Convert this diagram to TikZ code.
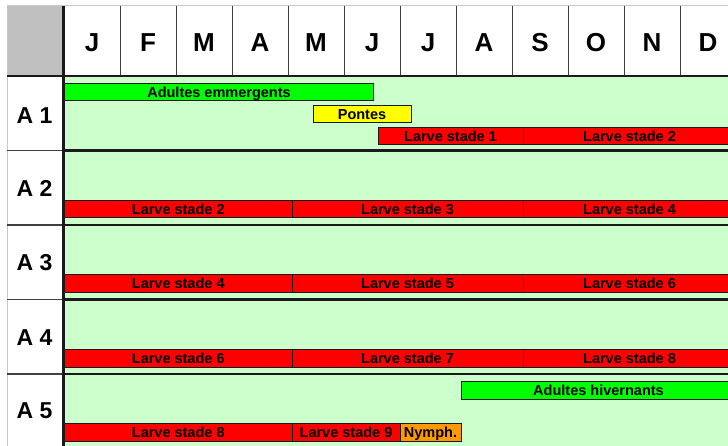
\documentclass[tikz,border=0pt]{standalone}
\usepackage{fontspec}
\setmainfont{Liberation Sans}
\definecolor{bgg}{HTML}{CCFFCC}
\definecolor{grn}{HTML}{00FF00}
\definecolor{yel}{HTML}{FFFF00}
\definecolor{rdd}{HTML}{FF0000}
\definecolor{org}{HTML}{FF9900}
\definecolor{corner}{HTML}{C0C0C0}
\definecolor{frm}{HTML}{C8C8C8}
\definecolor{ink}{HTML}{1A1A1A}
\definecolor{gridc}{HTML}{404040}
\begin{document}
\begin{tikzpicture}[x=1pt,y=-1pt,
  bar/.style={draw=ink, line width=1pt, inner sep=0pt, outer sep=0pt, anchor=north west,
    minimum height=17.5pt, text height=10.4pt, text depth=0pt, text=black,
    font=\bfseries\fontsize{14.5}{15}\selectfont},
  month/.style={inner sep=0pt, text height=18.6pt, text depth=0pt,
    font=\bfseries\fontsize{26}{28}\selectfont},
  rowlab/.style={inner sep=0pt, text height=16.5pt, text depth=0pt,
    font=\bfseries\fontsize{23}{25}\selectfont},
  sepchart/.style={line width=2.6pt, ink},
  seplab/.style={line width=1.6pt, gridc},
  thinframe/.style={line width=1pt, frm},
]
\useasboundingbox (0,0) rectangle (728,446);
\clip (0,0) rectangle (728,446);
% backgrounds
\fill[white] (0,0) rectangle (728,446);
\fill[corner] (7,6) rectangle (63,76);
\fill[bgg] (64,76) rectangle (728,446);
% frame light lines
\draw[thinframe] (7,5.5) -- (728,5.5);
\draw[thinframe] (7.5,5.5) -- (7.5,446);
% header column lines
\foreach \k in {0,...,10}{
  \draw[line width=1pt, gridc] ({120+56*\k},6) -- ({120+56*\k},76);
}
% month labels
\foreach \m [count=\i from 0] in {J,F,M,A,M,J,J,A,S,O,N,D}{
  \node[month] (m\i) at ({92+56*\i},42) {\m};
}
% row labels
\node[rowlab] (r1) at (34.5,115.5) {A 1};
\node[rowlab] (r2) at (34.5,188.5) {A 2};
\node[rowlab] (r3) at (34.5,262.5) {A 3};
\node[rowlab] (r4) at (34.5,337) {A 4};
\node[rowlab] (r5) at (34.5,410.5) {A 5};
% A1
\node[bar, fill=grn, minimum width=309pt, minimum height=16.5pt] (em) at (64.5,84) {Adultes emmergents};
\node[bar, fill=yel, minimum width=98pt, minimum height=17pt] (po) at (313,106) {Pontes};
\node[bar, fill=rdd, minimum width=145pt] (a1l1) at (378,127.5) {Larve stade 1};
\node[bar, fill=rdd, minimum width=213pt] (a1l2) at (523,127.5) {Larve stade 2};
% A2
\node[bar, fill=rdd, minimum width=227.5pt] (a2l2) at (64.5,200.5) {Larve stade 2};
\node[bar, fill=rdd, minimum width=231pt] (a2l3) at (292,200.5) {Larve stade 3};
\node[bar, fill=rdd, minimum width=213pt] (a2l4) at (523,200.5) {Larve stade 4};
% A3
\node[bar, fill=rdd, minimum width=227.5pt] (a3l4) at (64.5,275) {Larve stade 4};
\node[bar, fill=rdd, minimum width=231pt] (a3l5) at (292,275) {Larve stade 5};
\node[bar, fill=rdd, minimum width=213pt] (a3l6) at (523,275) {Larve stade 6};
% A4
\node[bar, fill=rdd, minimum width=227.5pt] (a4l6) at (64.5,349.5) {Larve stade 6};
\node[bar, fill=rdd, minimum width=231pt] (a4l7) at (292,349.5) {Larve stade 7};
\node[bar, fill=rdd, minimum width=213pt] (a4l8) at (523,349.5) {Larve stade 8};
% A5
\node[bar, fill=grn, minimum width=275pt, minimum height=18pt] (hiv) at (461,381) {Adultes hivernants};
\node[bar, fill=rdd, minimum width=227.5pt] (a5l8) at (64.5,423.5) {Larve stade 8};
\node[bar, fill=rdd, minimum width=108pt] (a5l9) at (292,423.5) {Larve stade 9};
\node[bar, fill=org, minimum width=61pt] (ny) at (400,423.5) {Nymph.};
% row separators
\foreach \y in {150.5,225,299.5,374}{
  \draw[sepchart] (63,\y) -- (728,\y);
  \draw[seplab] (7,\y) -- (63,\y);
}
% header bottom line
\draw[sepchart] (7,76) -- (728,76);
% main vertical line
\draw[line width=3pt, ink] (63,6) -- (63,446);
\end{tikzpicture}
\end{document}
